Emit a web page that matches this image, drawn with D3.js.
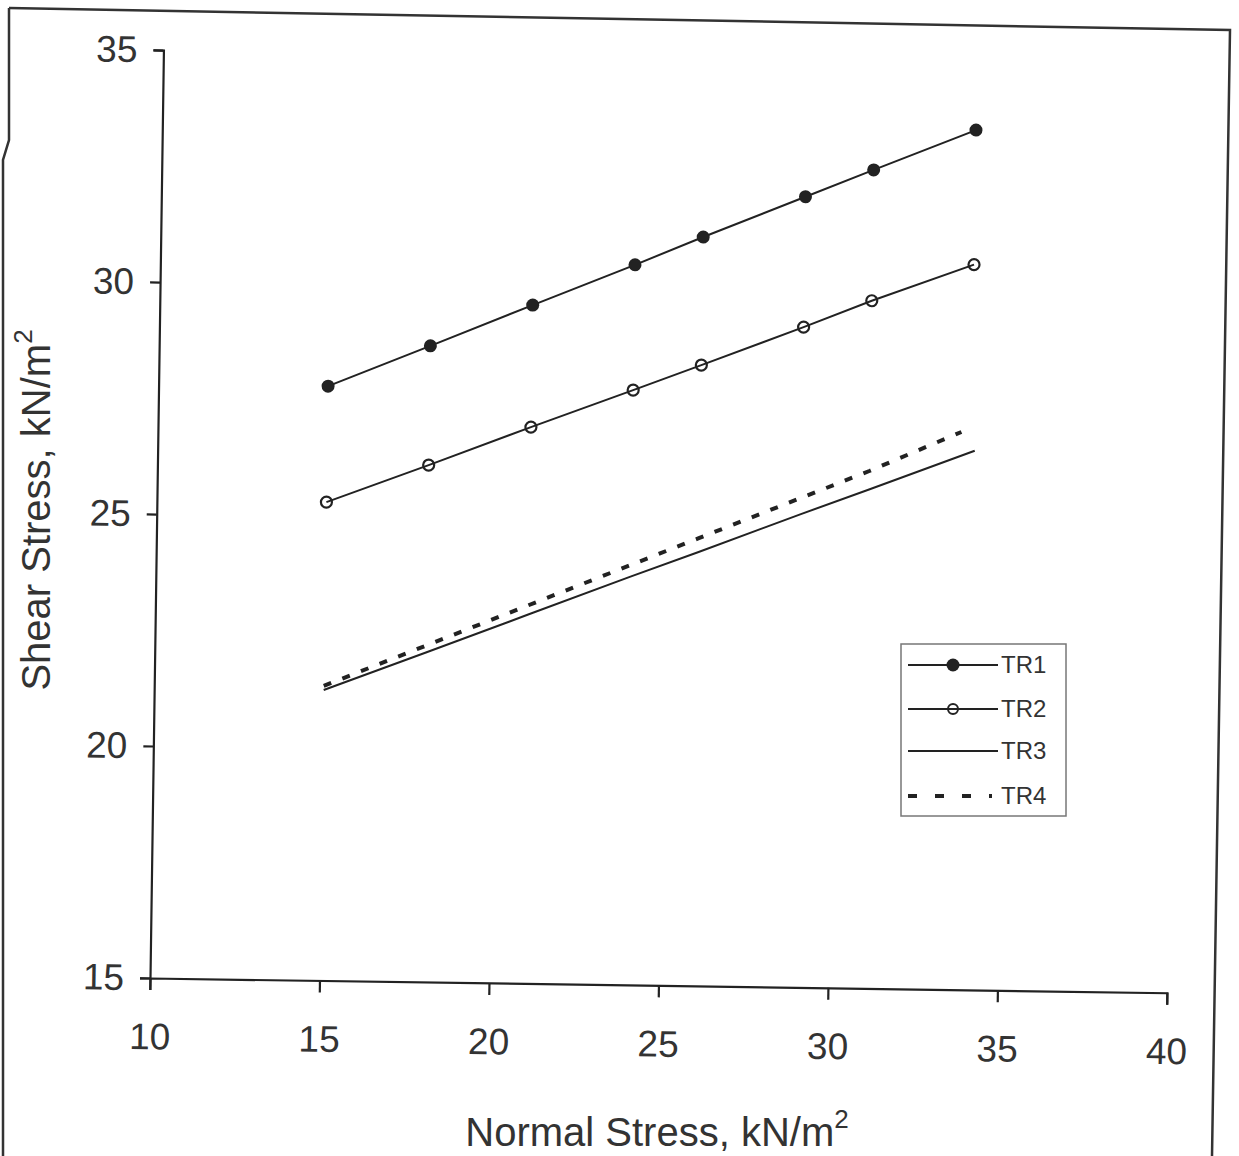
<!DOCTYPE html>
<html><head><meta charset="utf-8">
<script src="https://cdn.jsdelivr.net/npm/d3@7/dist/d3.min.js"></script>
<style>body{margin:0;background:#fff}svg{display:block}text{font-family:"Liberation Sans",Arial,sans-serif;fill:#333}</style>
</head><body><svg id="c" width="1239" height="1156"></svg>
<script>
const xTicks = [10, 15, 20, 25, 30, 35, 40];
const yTicks = [15, 20, 25, 30, 35];
const normalStress = [15, 18, 21, 24, 26, 29, 31, 34];
const tr1 = [27.81, 28.71, 29.62, 30.52, 31.14, 32.04, 32.64, 33.53];
const tr2 = [25.31, 26.14, 26.99, 27.82, 28.38, 29.23, 29.82, 30.63];
const tr3x = [15, 18, 21, 24, 26, 29, 31, 34.1];
const tr3 = [21.26, 22.1, 22.95, 23.8, 24.35, 25.2, 25.75, 26.62];
const tr4x = [15, 18, 21, 24, 26, 29, 31, 33.7];
const tr4 = [21.35, 22.25, 23.15, 24.05, 24.65, 25.55, 26.15, 27.02];
const seriesNames = ["TR1", "TR2", "TR3", "TR4"];

const svg = d3.select("#c");
const x = d3.scaleLinear().domain([10, 40]).range([150, 1167]);
const y = d3.scaleLinear().domain([15, 35]).range([978, 50]);
const ink = "#222";
const font = '"Liberation Sans",Arial,sans-serif';

// scanned page frame
svg.append("path").attr("d", "M9,8 L1230,30 L1212,1156").attr("fill", "none").attr("stroke", "#333").attr("stroke-width", 2.5);
svg.append("path").attr("d", "M9,8 L9,140 L3,160 L3,1156").attr("fill", "none").attr("stroke", "#333").attr("stroke-width", 2.5);

// the scanned chart is tilted slightly; reproduce with a rotation about the axis origin
const g = svg.append("g").attr("transform", `rotate(0.83,${x(10)},${y(15)})`);

const xAxis = g.append("g").attr("transform", `translate(0,${y(15)})`)
  .call(d3.axisBottom(x).tickValues(xTicks).tickSize(12).tickPadding(33).tickFormat(d3.format("d")));
const yAxis = g.append("g").attr("transform", `translate(${x(10)},0)`)
  .call(d3.axisLeft(y).tickValues(yTicks).tickSize(10).tickPadding(16).tickFormat(d3.format("d")));
[xAxis, yAxis].forEach(a => {
  a.select(".domain").attr("stroke", ink).attr("stroke-width", 2.2);
  a.selectAll(".tick line").attr("stroke", ink).attr("stroke-width", 2.2);
  a.selectAll(".tick text").attr("font-size", 37).attr("fill", "#333").attr("font-family", font);
});

const line = d3.line().x(d => x(d[0])).y(d => y(d[1]));
const d1 = d3.zip(normalStress, tr1), d2 = d3.zip(normalStress, tr2);
const d3s = d3.zip(tr3x, tr3), d4 = d3.zip(tr4x, tr4);

g.append("path").attr("d", line(d1)).attr("fill", "none").attr("stroke", ink).attr("stroke-width", 2);
g.append("path").attr("d", line(d2)).attr("fill", "none").attr("stroke", ink).attr("stroke-width", 2);
g.append("path").attr("d", line(d3s)).attr("fill", "none").attr("stroke", ink).attr("stroke-width", 2);
g.append("path").attr("d", line(d4)).attr("fill", "none").attr("stroke", ink).attr("stroke-width", 4).attr("stroke-dasharray", "8,12");

g.selectAll(".p1").data(d1).join("circle").attr("cx", d => x(d[0])).attr("cy", d => y(d[1])).attr("r", 6.5).attr("fill", ink);
g.selectAll(".p2").data(d2).join("circle").attr("cx", d => x(d[0])).attr("cy", d => y(d[1])).attr("r", 5.5).attr("fill", "none").attr("stroke", ink).attr("stroke-width", 2.2);

// axis titles
const xt = svg.append("text").attr("x", 657).attr("y", 1146).attr("text-anchor", "middle").attr("font-size", 40);
xt.append("tspan").text("Normal Stress, kN/m");
xt.append("tspan").attr("font-size", 26).attr("dy", -18).text("2");
const yt = svg.append("text").attr("transform", "translate(50,510) rotate(-90)").attr("text-anchor", "middle").attr("font-size", 40);
yt.append("tspan").text("Shear Stress, kN/m");
yt.append("tspan").attr("font-size", 26).attr("dy", -18).text("2");

// legend
const lg = svg.append("g");
lg.append("rect").attr("x", 901).attr("y", 644).attr("width", 165).attr("height", 172).attr("fill", "#fff").attr("stroke", "#777").attr("stroke-width", 1.5);
const ly = [665, 709, 751, 796];
seriesNames.forEach((n, i) => {
  const l = lg.append("line").attr("x1", 908).attr("x2", 998).attr("y1", ly[i]).attr("y2", ly[i]).attr("stroke", ink);
  if (i === 3) l.attr("stroke-width", 4).attr("stroke-dasharray", "9,18").attr("x2", 992);
  else l.attr("stroke-width", 2);
  if (i === 0) lg.append("circle").attr("cx", 953).attr("cy", ly[i]).attr("r", 6.5).attr("fill", ink);
  if (i === 1) lg.append("circle").attr("cx", 953).attr("cy", ly[i]).attr("r", 5).attr("fill", "none").attr("stroke", ink).attr("stroke-width", 2);
  lg.append("text").attr("x", 1001).attr("y", ly[i] + 8).attr("font-size", 24).text(n);
});
</script></body></html>
